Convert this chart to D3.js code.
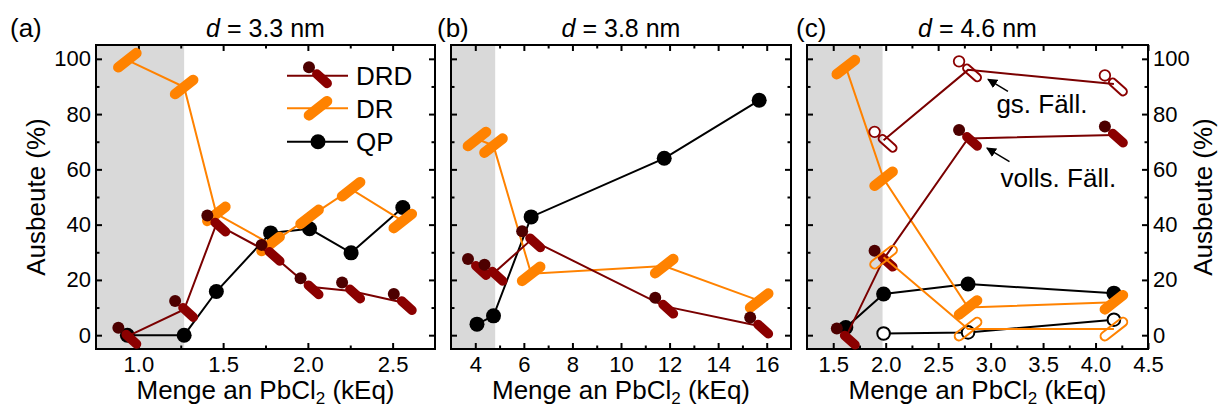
<!DOCTYPE html>
<head>
  <meta charset="utf-8">
  <script src="https://d3js.org/d3.v7.min.js"></script>
  <style>
  body,html {background:white; margin:0; font-family:"Liberation Sans", Arial, sans-serif;}
  svg text {font-family:"Liberation Sans", Arial, sans-serif; fill:#000;}
</style>
</head>
<body>
<svg id="chart"></svg>
<script>

  // ---- data (x shared per panel, y = Ausbeute in %) ----
  const xA = [0.935, 1.27, 1.46, 1.78, 2.01, 2.255, 2.56];
  const qpA = [0, 0, 15.8, 37, 38.5, 29.8, 46.2];
  const drA = [99.5, 89.8, 43.9, 33, 42.8, 52.8, 41.3];
  const drdA = [-0.4, 9.3, 40.2, 29.6, 17.5, 16, 11.8];

  const xB = [4.07, 4.75, 6.3, 11.78, 15.69];
  const qpB = [4, 7, 42.8, 64, 85];
  const drB = [71, 68.6, 22.2, 25, 12.5];
  const drdB = [24.5, 22.4, 34.5, 10.5, 3.3];

  const xC = [1.62, 1.98, 2.785, 4.175];
  const qpC = [2.8, 14.9, 18.5, 15.2];
  const drC = [97, 56.6, 10, 11.9];
  const drdC = [-0.7, 27.5, 71.2, 72.4];
  // gs. Fäll. (open symbols)
  const xCopen = [1.98, 2.785, 4.175];
  const qpCopen = [0.6, 1.0, 5.6];
  const drCopen = [28.2, 2.2, 2.2];
  const drdCopen = [70.5, 96, 90.9];

  const yMajor = [0, 20, 40, 60, 80, 100];
  const yMinor = [10, 30, 50, 70, 90];
  const xMajorA = [1.0, 1.5, 2.0, 2.5], xMinorA = [1.25, 1.75, 2.25];
  const xMajorB = [4, 6, 8, 10, 12, 14, 16], xMinorB = [5, 7, 9, 11, 13, 15];
  const xMajorC = [1.5, 2.0, 2.5, 3.0, 3.5, 4.0, 4.5], xMinorC = [1.75, 2.25, 2.75, 3.25, 3.75, 4.25];
  const titles = ["3.3", "3.8", "4.6"];
  const shades = [[0.75, 1.27], [3, 4.82], [1.25, 1.97]];

  const ORANGE = "#ff8200", MAROON = "#8b0000", LINE_M = "#7a0000", DARK = "#4d0000";

  const W = 1220, H = 410, TOP = 45, BOT = 349;
  const svg = d3.select("#chart").attr("width", W).attr("height", H);

  const y = d3.scaleLinear().domain([-5, 105]).range([BOT, TOP]);

  const panels = [
    {id:"(a)", lx:10, x0:96, x1:435, dom:[0.75, 2.75], major:xMajorA, minor:xMinorA, fmt:d3.format(".1f"), left:true, right:false,
     series:[{x:xA, qp:qpA, dr:drA, drd:drdA}]},
    {id:"(b)", lx:437, x0:451, x1:791, dom:[3, 17], major:xMajorB, minor:xMinorB, fmt:d3.format("d"), left:false, right:false,
     series:[{x:xB, qp:qpB, dr:drB, drd:drdB}]},
    {id:"(c)", lx:796, x0:807, x1:1148, dom:[1.25, 4.5], major:xMajorC, minor:xMinorC, fmt:d3.format(".1f"), left:false, right:true,
     series:[{x:xC, qp:qpC, dr:drC, drd:drdC}, {x:xCopen, qp:qpCopen, dr:drCopen, drd:drdCopen, open:true}]}
  ];

  function qpMark(g, px, py, open) {
    g.append("circle").attr("cx", px).attr("cy", py).attr("r", open ? 6.3 : 7.5)
      .attr("fill", open ? "white" : "#000").attr("stroke", "#000").attr("stroke-width", open ? 2 : 0);
  }

  function barMark(g, px, py, angle, half, w, color, open) {
    if (!open) {
      const a = angle * Math.PI / 180;
      g.append("line")
        .attr("x1", px - half*Math.cos(a)).attr("y1", py - half*Math.sin(a))
        .attr("x2", px + half*Math.cos(a)).attr("y2", py + half*Math.sin(a))
        .attr("stroke", color).attr("stroke-width", w).attr("stroke-linecap", "round");
    } else {
      g.append("rect")
        .attr("x", -half - w/2 + 1).attr("y", -w/2 + 1)
        .attr("width", 2*half + w - 2).attr("height", w - 2).attr("rx", w/2 - 1)
        .attr("transform", `translate(${px},${py}) rotate(${angle})`)
        .attr("fill", "none").attr("stroke", color).attr("stroke-width", 2);
    }
  }

  function drMark(g, px, py, open) {
    barMark(g, px, py, -38, 11.5, 10.5, ORANGE, open);
  }

  function drdMark(g, px, py, open) {
    g.append("circle").attr("cx", px - 9).attr("cy", py - 8.5).attr("r", open ? 5.3 : 6)
      .attr("fill", open ? "white" : DARK).attr("stroke", MAROON).attr("stroke-width", open ? 1.8 : 0);
    barMark(g, px + 4, py + 3, 42, 7, 9.5, MAROON, open);
  }

  panels.forEach(function(p, pi) {
    const x = d3.scaleLinear().domain(p.dom).range([p.x0, p.x1]);
    const g = svg.append("g");

    // shaded region
    g.append("rect")
      .attr("x", x(shades[pi][0])).attr("y", TOP)
      .attr("width", x(shades[pi][1]) - x(shades[pi][0])).attr("height", BOT - TOP)
      .attr("fill", "#d9d9d9");

    // axes: major + minor on all four sides, ticks pointing inward
    function styleAxis(sel) {
      sel.select(".domain").remove();
      sel.selectAll(".tick line").attr("stroke-width", 2);
      sel.attr("font-size", 22).attr("font-family", "Liberation Sans, Arial, sans-serif");
    }
    g.append("g").attr("transform", `translate(0,${BOT})`)
      .call(d3.axisBottom(x).tickValues(p.major).tickFormat(p.fmt).tickSizeInner(-6).tickSizeOuter(0).tickPadding(7))
      .call(styleAxis);
    g.append("g").attr("transform", `translate(0,${BOT})`)
      .call(d3.axisBottom(x).tickValues(p.minor).tickFormat("").tickSizeInner(-3.5).tickSizeOuter(0))
      .call(styleAxis);
    g.append("g").attr("transform", `translate(0,${TOP})`)
      .call(d3.axisTop(x).tickValues(p.major).tickFormat("").tickSizeInner(-6).tickSizeOuter(0))
      .call(styleAxis);
    g.append("g").attr("transform", `translate(0,${TOP})`)
      .call(d3.axisTop(x).tickValues(p.minor).tickFormat("").tickSizeInner(-3.5).tickSizeOuter(0))
      .call(styleAxis);
    g.append("g").attr("transform", `translate(${p.x0},0)`)
      .call(d3.axisLeft(y).tickValues(yMajor).tickFormat(p.left ? d3.format("d") : "").tickSizeInner(-6).tickSizeOuter(0).tickPadding(5))
      .call(styleAxis);
    g.append("g").attr("transform", `translate(${p.x0},0)`)
      .call(d3.axisLeft(y).tickValues(yMinor).tickFormat("").tickSizeInner(-3.5).tickSizeOuter(0))
      .call(styleAxis);
    g.append("g").attr("transform", `translate(${p.x1},0)`)
      .call(d3.axisRight(y).tickValues(yMajor).tickFormat(p.right ? d3.format("d") : "").tickSizeInner(-6).tickSizeOuter(0).tickPadding(5))
      .call(styleAxis);
    g.append("g").attr("transform", `translate(${p.x1},0)`)
      .call(d3.axisRight(y).tickValues(yMinor).tickFormat("").tickSizeInner(-3.5).tickSizeOuter(0))
      .call(styleAxis);

    // frame
    g.append("rect").attr("x", p.x0).attr("y", TOP).attr("width", p.x1 - p.x0).attr("height", BOT - TOP)
      .attr("fill", "none").attr("stroke", "#000").attr("stroke-width", 2);

    const line = d3.line().x(d => x(d[0])).y(d => y(d[1]));

    p.series.forEach(function(s) {
      const qp = s.x.map((v, i) => [v, s.qp[i]]);
      const dr = s.x.map((v, i) => [v, s.dr[i]]);
      const drd = s.x.map((v, i) => [v, s.drd[i]]);

      g.append("path").datum(qp).attr("d", line).attr("fill", "none").attr("stroke", "#000").attr("stroke-width", 2);
      qp.forEach(d => qpMark(g, x(d[0]), y(d[1]), s.open));

      g.append("path").datum(dr).attr("d", line).attr("fill", "none").attr("stroke", ORANGE).attr("stroke-width", 2);
      dr.forEach(d => drMark(g, x(d[0]), y(d[1]), s.open));

      g.append("path").datum(drd).attr("d", line).attr("fill", "none").attr("stroke", LINE_M).attr("stroke-width", 2);
      drd.forEach(d => drdMark(g, x(d[0]), y(d[1]), s.open));
    });

    // panel label and title
    svg.append("text").attr("x", p.lx).attr("y", 37).attr("font-size", 26).text(p.id);
    const t = svg.append("text").attr("x", (p.x0 + p.x1) / 2).attr("y", 37)
      .attr("font-size", 25).attr("text-anchor", "middle");
    t.append("tspan").attr("font-style", "italic").text("d");
    t.append("tspan").text(" = " + titles[pi] + " nm");

    // x axis title
    const xt = svg.append("text").attr("x", (p.x0 + p.x1) / 2).attr("y", 399)
      .attr("font-size", 26).attr("text-anchor", "middle");
    xt.append("tspan").text("Menge an PbCl");
    xt.append("tspan").attr("font-size", 17).attr("dy", 5).text("2");
    xt.append("tspan").attr("dy", -5).text(" (kEq)");

    p.xScale = x;
  });

  // y axis titles
  svg.append("text").attr("transform", `translate(45,${(TOP + BOT) / 2}) rotate(-90)`)
    .attr("font-size", 26).attr("text-anchor", "middle").text("Ausbeute (%)");
  svg.append("text").attr("transform", `translate(1212,${(TOP + BOT) / 2}) rotate(-90)`)
    .attr("font-size", 26).attr("text-anchor", "middle").text("Ausbeute (%)");

  // legend in panel (a)
  const legendRows = [{name:"DRD", color:LINE_M, mark:drdMark, y:75.7},
                      {name:"DR", color:ORANGE, mark:drMark, y:108.3},
                      {name:"QP", color:"#000", mark:qpMark, y:141.7}];
  const lg = svg.append("g");
  legendRows.forEach(function(r) {
    lg.append("line").attr("x1", 287).attr("x2", 348).attr("y1", r.y).attr("y2", r.y)
      .attr("stroke", r.color).attr("stroke-width", 2);
    r.mark(lg, 318, r.y, false);
    lg.append("text").attr("x", 356).attr("y", r.y + 9.5).attr("font-size", 26).text(r.name);
  });

  // annotations in panel (c)
  const xc = panels[2].xScale;
  svg.append("defs").append("marker").attr("id", "arrow")
    .attr("viewBox", "0 0 10 10").attr("refX", 9).attr("refY", 5)
    .attr("markerWidth", 10).attr("markerHeight", 10).attr("markerUnits", "userSpaceOnUse")
    .attr("orient", "auto")
    .append("path").attr("d", "M0,0 L10,5 L0,10 Z").attr("fill", "#000");

  const notes = [
    {text:"gs. Fäll.", tx:3.055, ty:80.5, from:[3.165, 88.2], to:[2.975, 92.6]},
    {text:"volls. Fäll.", tx:3.095, ty:53.7, from:[3.18, 62.8], to:[2.965, 67.7]}
  ];
  notes.forEach(function(n) {
    svg.append("line")
      .attr("x1", xc(n.from[0])).attr("y1", y(n.from[1]))
      .attr("x2", xc(n.to[0])).attr("y2", y(n.to[1]))
      .attr("stroke", "#000").attr("stroke-width", 1.5).attr("marker-end", "url(#arrow)");
    svg.append("text").attr("x", xc(n.tx)).attr("y", y(n.ty)).attr("font-size", 26).text(n.text);
  });

</script>
</body>
